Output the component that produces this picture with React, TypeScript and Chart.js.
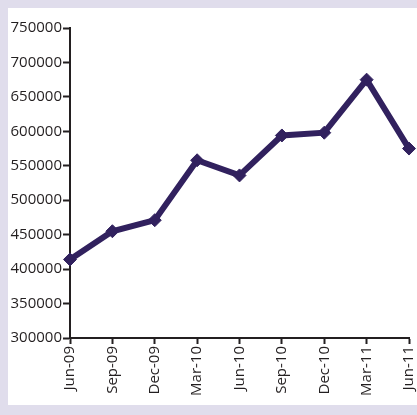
import React, { useEffect, useRef } from "react";
import { Chart, registerables } from "chart.js";

Chart.register(...registerables);

// Quarterly values, Jun-09 to Jun-11
const quarters = ["Jun-09", "Sep-09", "Dec-09", "Mar-10", "Jun-10", "Sep-10", "Dec-10", "Mar-11", "Jun-11"];
const totals = [414000, 455000, 471000, 558000, 536000, 594000, 598000, 675000, 575000];
const yMin = 300000;
const yMax = 750000;
const yStep = 50000;

const LINE = "#31215e";
const AXIS = "#231f20";
const FONT = "'Open Sans', 'DejaVu Sans', sans-serif";

export default function App() {
  const canvasRef = useRef<HTMLCanvasElement | null>(null);

  useEffect(() => {
    const canvas = canvasRef.current;
    if (!canvas) return;
    const chart = new Chart(canvas, {
      type: "line",
      data: {
        labels: quarters,
        datasets: [
          {
            data: totals,
            borderColor: LINE,
            backgroundColor: LINE,
            borderWidth: 6,
            tension: 0,
            pointStyle: "rectRot",
            pointRadius: 6.5,
            pointHoverRadius: 6.5,
            pointBackgroundColor: LINE,
            pointBorderColor: LINE,
            pointBorderWidth: 1,
            clip: false,
          },
        ],
      },
      options: {
        animation: false,
        responsive: false,
        maintainAspectRatio: false,
        layout: { padding: { top: 20, right: 8, left: 0, bottom: 0 } },
        plugins: {
          legend: { display: false },
          tooltip: { enabled: false },
        },
        scales: {
          x: {
            type: "category",
            offset: false,
            grid: {
              display: true,
              drawOnChartArea: false,
              drawTicks: true,
              tickLength: 6,
              tickColor: AXIS,
              tickWidth: 2,
            },
            border: { display: true, color: AXIS, width: 2 },
            ticks: {
              color: AXIS,
              font: { family: FONT, size: 15 },
              minRotation: 90,
              maxRotation: 90,
              autoSkip: false,
              padding: 2,
            },
            afterFit: (s: any) => {
              s.height = 67;
              s.paddingLeft = 0;
              s.paddingRight = 0;
            },
          },
          y: {
            min: yMin,
            max: yMax,
            grid: {
              display: true,
              drawOnChartArea: false,
              drawTicks: true,
              tickLength: 7,
              tickColor: AXIS,
              tickWidth: 2,
            },
            border: { display: true, color: AXIS, width: 2 },
            ticks: {
              stepSize: yStep,
              color: AXIS,
              font: { family: FONT, size: 15 },
              padding: 1,
              callback: (v: any) => String(v),
            },
            afterFit: (s: any) => {
              s.width = 62;
            },
          },
        },
      },
    });
    return () => chart.destroy();
  }, []);

  return (
    <div
      style={{
        position: "absolute",
        left: 0,
        top: 0,
        width: 417,
        height: 415,
        background: "#e0ddec",
        overflow: "hidden",
      }}
    >
      <div
        style={{
          position: "absolute",
          left: 8,
          top: 8,
          width: 409,
          height: 397,
          background: "#ffffff",
        }}
      >
        <canvas ref={canvasRef} width={409} height={397} style={{ display: "block" }} />
      </div>
    </div>
  );
}
